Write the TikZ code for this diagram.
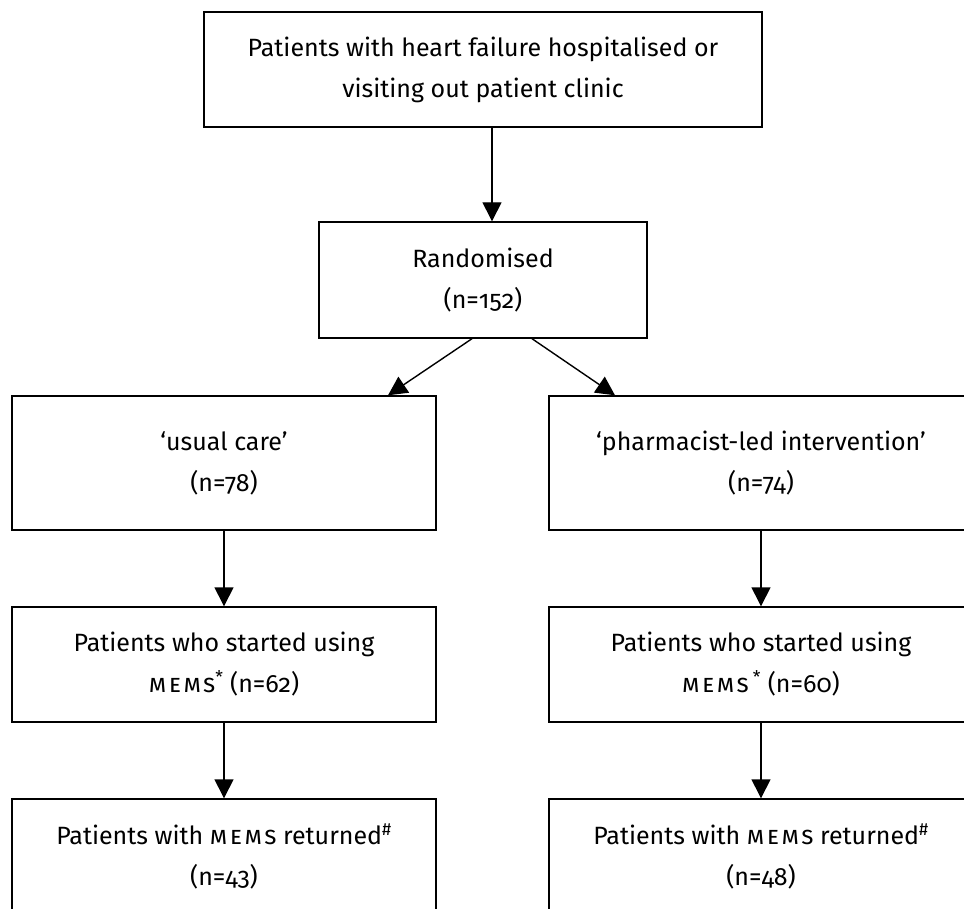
\documentclass[tikz,border=0pt]{standalone}
\usepackage{fontspec}
\setmainfont{Fira Sans}[Numbers=OldStyle]
\usetikzlibrary{arrows.meta}
\newcommand{\memsx}{{\addfontfeature{Letters=SmallCaps,LetterSpace=10}mems}}
\begin{document}
\begin{tikzpicture}[x=1pt,y=-1pt,
  box/.style={draw, line width=1.4pt, inner sep=0pt, align=center, minimum width=424pt, font=\fontsize{25}{41}\selectfont},
  arr/.style={line width=1.4pt, -{Triangle[width=19pt,length=19pt]}}]
\useasboundingbox (0,0) rectangle (964,909);
\node[box, minimum width=558pt, minimum height=115pt] (top) at (483,69.5) {Patients with heart failure hospitalised or\\visiting out patient clinic};
\node[box, minimum width=328pt, minimum height=116pt] (rand) at (483,280) {Randomised\\(n=152)};
\node[box, minimum height=134pt] (uc) at (224,463) {‘usual care’\\(n=78)};
\node[box, minimum height=134pt] (pi) at (761,463) {‘pharmacist-led intervention’\\(n=74)};
\node[box, minimum height=115pt] (m1) at (224,664.5) {Patients who started using\\\memsx\textsuperscript{*} (n=62)};
\node[box, minimum height=115pt] (m2) at (761,664.5) {Patients who started using\\\memsx\,\textsuperscript{*} (n=60)};
\node[box, minimum height=115pt] (r1) at (224,856.5) {Patients with \memsx{} returned\textsuperscript{\#}\\(n=43)};
\node[box, minimum height=115pt] (r2) at (761,856.5) {Patients with \memsx{} returned\textsuperscript{\#}\\(n=48)};
\draw[arr] ([xshift=9pt]top.south) -- ([xshift=9pt]rand.north);
\draw[arr] ([xshift=-11pt]rand.south) -- ([xshift=164pt]uc.north);
\draw[arr] ([xshift=49pt]rand.south) -- ([xshift=-146pt]pi.north);
\draw[arr] (uc.south) -- (m1.north);
\draw[arr] (pi.south) -- (m2.north);
\draw[arr] (m1.south) -- (r1.north);
\draw[arr] (m2.south) -- (r2.north);
\end{tikzpicture}
\end{document}
